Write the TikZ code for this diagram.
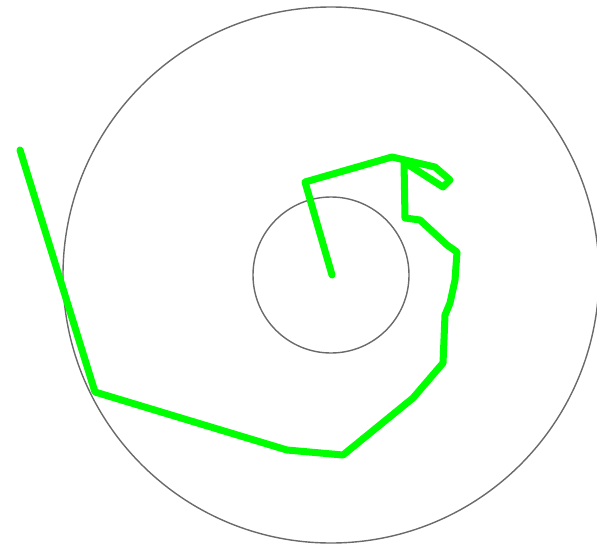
\documentclass[tikz,border=0pt]{standalone}
\usepackage{tikz}
\usetikzlibrary{calc}
\definecolor{RingGray}{HTML}{6A6A6A}
\definecolor{TrackGreen}{HTML}{00FF00}

\begin{document}
\begin{tikzpicture}[x=0.02cm,y=-0.02cm,
  ring/.style={draw=RingGray,line width=0.8pt},
  track/.style={draw=TrackGreen,line width=4pt,line join=round,line cap=round}
]
\useasboundingbox (0,0) rectangle (597,547);
\coordinate (ctr) at (331,275);
\draw[ring] (ctr) circle[radius=268];
\draw[ring] (ctr) circle[radius=78];
% track points, start to end
\coordinate (p1) at (20,150);
\coordinate (p2) at (95,392);
\coordinate (p3) at (287,450);
\coordinate (p4) at (343,455);
\coordinate (p5) at (413,398);
\coordinate (p6) at (443,363);
\coordinate (p7) at (445,315);
\coordinate (p8) at (450,303);
\coordinate (p9) at (455,280);
\coordinate (p10) at (457,252);
\coordinate (p11) at (447,245);
\coordinate (p12) at (420,220);
\coordinate (p13) at (405,218);
\coordinate (p14) at (404,162);
\coordinate (p15) at (443,187);
\coordinate (p16) at (450,180);
\coordinate (p17) at (435,167);
\coordinate (p18) at (392,157);
\coordinate (p19) at (305,182);
\coordinate (p20) at (332,275);
\draw[track] (p1)
  \foreach \i in {2,...,20} { -- (p\i) };
\end{tikzpicture}
\end{document}
